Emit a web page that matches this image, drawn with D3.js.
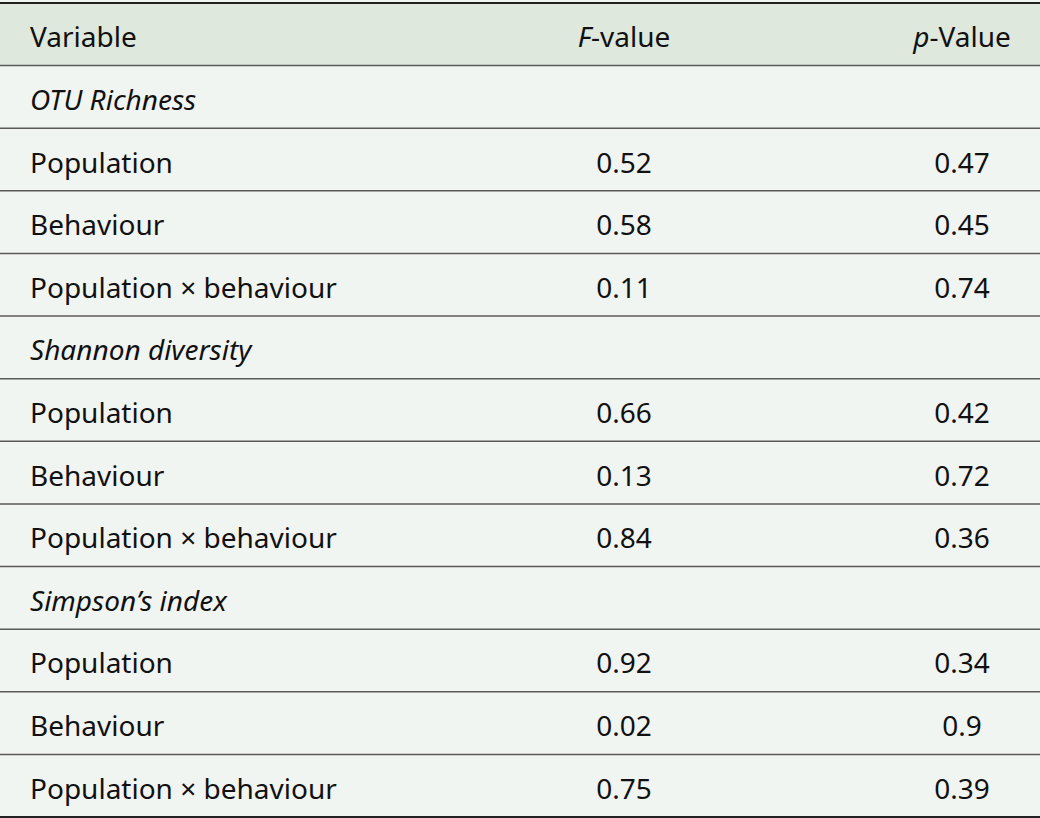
<!DOCTYPE html>
<html>
<head>
<meta charset="utf-8">
<script src="https://cdn.jsdelivr.net/npm/d3@7"></script>
<style>
  html, body { margin: 0; padding: 0; background: #f1f5f1; }
  svg { display: block; }
</style>
</head>
<body>
<div id="table"></div>
<script>
// table content
const headers = ['Variable', 'F-value', 'p-Value'];
const groups = ['OTU Richness', 'Shannon diversity', "Simpson\u2019s index"];
const effects = ['Population', 'Behaviour', 'Population \u00d7 behaviour'];
const fValues = [
  ['0.52', '0.58', '0.11'],
  ['0.66', '0.13', '0.84'],
  ['0.92', '0.02', '0.75']
];
const pValues = [
  ['0.47', '0.45', '0.74'],
  ['0.42', '0.72', '0.36'],
  ['0.34', '0.9', '0.39']
];

const width = 1040, height = 818;
const fontFamily = '"Noto Sans", sans-serif';
const fontSize = 28;

// flatten into rows
const rows = [{ type: 'header' }];
groups.forEach((g, gi) => {
  rows.push({ type: 'group', label: g });
  effects.forEach((e, ei) => {
    rows.push({ type: 'data', label: e, f: fValues[gi][ei], p: pValues[gi][ei] });
  });
});

const svg = d3.select('#table')
  .append('svg')
  .attr('width', width)
  .attr('height', height);

const y = d3.scaleBand()
  .domain(d3.range(rows.length))
  .range([3, 817])
  .padding(0);

// column centres
const x = d3.scalePoint()
  .domain(['label', 'f', 'p'])
  .range([30, 962]);
const fCentre = 624;

// backgrounds
svg.append('rect')
  .attr('x', 0).attr('y', 0)
  .attr('width', width).attr('height', height)
  .attr('fill', '#f1f5f1');

svg.append('rect')
  .attr('x', 0).attr('y', y(0))
  .attr('width', width).attr('height', y.bandwidth())
  .attr('fill', '#dfe8dd');

// row separators
svg.selectAll('line.sep')
  .data(d3.range(1, rows.length))
  .enter()
  .append('line')
  .attr('class', 'sep')
  .attr('x1', 0).attr('x2', width)
  .attr('y1', d => y(d)).attr('y2', d => y(d))
  .attr('stroke', '#5a5a5a')
  .attr('stroke-width', 1.5);

// top and bottom rules
[y(0), y(rows.length - 1) + y.bandwidth()].forEach(v => {
  svg.append('line')
    .attr('x1', 0).attr('x2', width)
    .attr('y1', v).attr('y2', v)
    .attr('stroke', '#222')
    .attr('stroke-width', 2);
});

const rowG = svg.selectAll('g.row')
  .data(rows)
  .enter()
  .append('g')
  .attr('class', 'row')
  .attr('transform', (d, i) => `translate(0, ${y(i) + y.bandwidth() / 2 + 2})`)
  .style('font-family', fontFamily)
  .style('font-size', fontSize + 'px')
  .attr('fill', '#111');

rowG.each(function (d) {
  const g = d3.select(this);
  if (d.type === 'header') {
    g.append('text').attr('x', x('label')).attr('dominant-baseline', 'central').text(headers[0]);
    const t1 = g.append('text').attr('x', fCentre).attr('text-anchor', 'middle').attr('dominant-baseline', 'central');
    t1.append('tspan').style('font-style', 'italic').text('F');
    t1.append('tspan').text('-value');
    const t2 = g.append('text').attr('x', x('p')).attr('text-anchor', 'middle').attr('dominant-baseline', 'central');
    t2.append('tspan').style('font-style', 'italic').text('p');
    t2.append('tspan').text('-Value');
  } else if (d.type === 'group') {
    g.append('text').attr('x', x('label')).attr('dominant-baseline', 'central')
      .style('font-style', 'italic').text(d.label);
  } else {
    g.append('text').attr('x', x('label')).attr('dominant-baseline', 'central').text(d.label);
    g.append('text').attr('x', fCentre).attr('text-anchor', 'middle').attr('dominant-baseline', 'central').text(d.f);
    g.append('text').attr('x', x('p')).attr('text-anchor', 'middle').attr('dominant-baseline', 'central').text(d.p);
  }
});
</script>
</body>
</html>
